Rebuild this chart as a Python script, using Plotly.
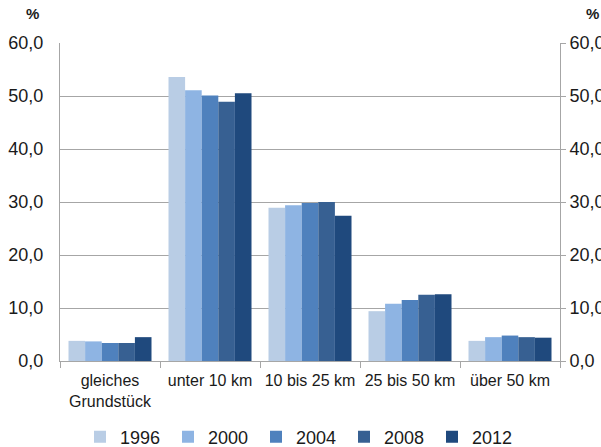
import plotly.graph_objects as go

categories = ["gleiches<br>Grundstück", "unter 10 km", "10 bis 25 km", "25 bis 50 km", "über 50 km"]
years = ["1996", "2000", "2004", "2008", "2012"]
v1996 = [3.8, 53.6, 28.9, 9.4, 3.8]
v2000 = [3.7, 51.1, 29.4, 10.8, 4.5]
v2004 = [3.4, 50.1, 29.8, 11.5, 4.8]
v2008 = [3.4, 48.9, 30.0, 12.5, 4.5]
v2012 = [4.5, 50.5, 27.4, 12.6, 4.4]
series = [v1996, v2000, v2004, v2008, v2012]
colors = ["#B9CDE5", "#8EB4E3", "#4F81BD", "#376092", "#1F497D"]
tickvals = [0, 10, 20, 30, 40, 50, 60]

FONT = "Liberation Sans, Arial, sans-serif"
fig = go.Figure()
for name, vals, col in zip(years, series, colors):
    fig.add_trace(go.Bar(x=categories, y=vals, name=name, marker_color=col,
                         marker_line_width=0))
# invisible trace for the right axis
fig.add_trace(go.Scatter(x=categories, y=v1996, yaxis="y2", mode="markers",
                         marker_opacity=0, showlegend=False, hoverinfo="skip"))

fig.update_layout(
    width=601, height=447,
    margin=dict(l=60, r=41, t=43, b=86),
    paper_bgcolor="white", plot_bgcolor="white",
    separators=",.",
    barmode="group", bargap=0.17, bargroupgap=0,
    font=dict(family=FONT, size=16, color="#1a1a1a"),
    xaxis=dict(showline=True, linecolor="#A6A6A6", linewidth=1,
               ticks="outside", tickson="boundaries", ticklen=6, tickcolor="#A6A6A6",
               tickfont=dict(size=16), showgrid=False, automargin=False,
               ticklabelstandoff=5),
    yaxis=dict(range=[0, 60], tickvals=tickvals, tickformat=".1f",
               showline=True, linecolor="#A6A6A6", linewidth=1,
               gridcolor="#A6A6A6", gridwidth=1, zeroline=False,
               ticks="", tickfont=dict(size=18), automargin=False,
               ticklabelstandoff=12),
    yaxis2=dict(range=[0, 60], tickvals=tickvals, tickformat=".1f",
                overlaying="y", side="right", showline=True, linecolor="#A6A6A6",
                ticks="outside", ticklen=5, tickcolor="#A6A6A6",
                showgrid=False, zeroline=False, tickfont=dict(size=18),
                automargin=False),
    legend=dict(orientation="h", x=0.48, xanchor="center", xref="paper",
                y=0.022, yanchor="middle", yref="container", font=dict(size=18),
                entrywidth=43, entrywidthmode="pixels", itemwidth=30,
                traceorder="normal"),
    annotations=[
        dict(text="<b>%</b>", xref="paper", yref="paper", x=-0.056, y=1.06,
             xanchor="center", yanchor="bottom", showarrow=False, font=dict(size=15)),
        dict(text="<b>%</b>", xref="paper", yref="paper", x=1.064, y=1.06,
             xanchor="center", yanchor="bottom", showarrow=False, font=dict(size=15)),
    ],
)
fig.write_html("out.html", config={"displayModeBar": False},
               post_script="document.body.style.margin='0';document.body.style.overflow='hidden';")
